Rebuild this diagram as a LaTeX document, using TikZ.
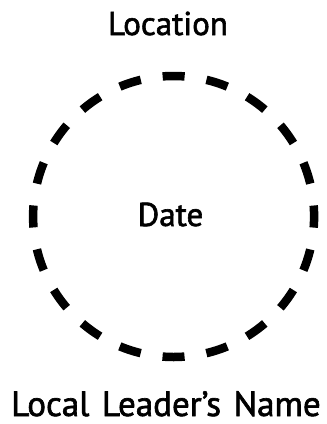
\documentclass[tikz,border=0pt]{standalone}
\usepackage{fontspec}
\newfontfamily\labelfont{PT Sans}[UprightFeatures={FakeBold=1.8},WordSpace=1.35]
\usetikzlibrary{positioning}

\begin{document}
\begin{tikzpicture}[x=1bp,y=-1bp,
  label/.style={font=\labelfont\fontsize{33bp}{36bp}\selectfont,inner sep=0pt,anchor=base},
  ring/.style={line width=8.5bp,dash pattern=on 22bp off 22.14bp,dash phase=11bp}
]
  \useasboundingbox (0,0) rectangle (327,424);
  \coordinate (mid) at (173.6,216.5);
  \draw[ring] (mid) circle[radius=140.5bp];
  \node[label] (loc) at (168,35) {Location};
  \node[label] (date) at (170.5,226) {Date};
  \node[label,font=\labelfont\fontsize{35bp}{36bp}\selectfont] (leader) at (166,416) {Local Leader’s Name};
\end{tikzpicture}
\end{document}
